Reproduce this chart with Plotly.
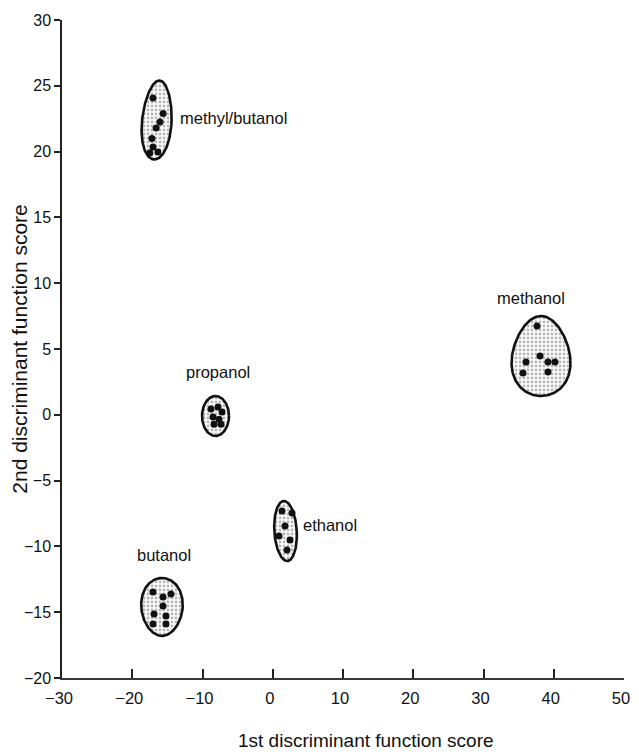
import numpy as np
import plotly.graph_objects as go

# ---- data ----
groups = ["methyl/butanol", "methanol", "propanol", "ethanol", "butanol"]

pts_x = {
    "methyl/butanol": [-17.05, -15.6, -16.05, -16.6, -17.2, -17.05, -17.5, -16.35],
    "methanol": [37.62, 36.05, 38.04, 39.18, 40.18, 35.62, 39.18],
    "propanol": [-8.79, -7.79, -7.22, -8.51, -7.65, -8.36, -7.37],
    "ethanol": [1.32, 2.74, 1.74, 0.89, 2.46, 2.03],
    "butanol": [-17.05, -15.62, -14.48, -15.62, -16.90, -15.2, -17.05, -15.2],
}
pts_y = {
    "methyl/butanol": [24.07, 22.9, 22.25, 21.8, 21.0, 20.35, 19.9, 19.97],
    "methanol": [6.75, 4.01, 4.47, 4.01, 4.01, 3.18, 3.25],
    "propanol": [0.44, 0.59, 0.21, -0.17, -0.33, -0.71, -0.71],
    "ethanol": [-7.31, -7.46, -8.45, -9.21, -9.51, -10.27],
    "butanol": [-13.47, -13.85, -13.62, -14.53, -15.14, -15.29, -15.9, -15.9],
}

# group region centre, half-widths, shear and egg factor (drawn outline)
reg_cx = [-16.5, 38.19, -8.15, 1.82, -15.77]
reg_cy = [22.4, 4.47, -0.09, -8.83, -14.6]
reg_rx = [2.1, 4.13, 1.92, 1.6, 2.95]
reg_ry = [3.0, 3.04, 1.52, 2.28, 2.2]
reg_shear = [0.12, 0.0, 0.0, -0.1, 0.0]
reg_egg = [0.1, 0.18, 0.0, 0.0, -0.08]

# label positions
lab_x = [-13.5, 36.76, -7.79, 4.0, -15.48]
lab_y = [22.55, 8.87, 3.25, -8.37, -10.65]
lab_anchor = ["left", "center", "center", "left", "center"]

x_ticks = [-30, -20, -10, 0, 10, 20, 30, 40, 50]
y_ticks = [-20, -15, -10, -5, 0, 5, 10, 15, 20, 25, 30]
x_title = "1st discriminant function score"
y_title = "2nd discriminant function score"

FONT = "Liberation Sans, Arial, Helvetica, sans-serif"
INK = "#111111"

fig = go.Figure()

t = np.linspace(0, 2 * np.pi, 200)
for i, g in enumerate(groups):
    s = np.sin(t)
    ex = reg_rx[i] * np.cos(t) * (1 - reg_egg[i] * s)
    ey = reg_ry[i] * s
    xs = reg_cx[i] + ex + reg_shear[i] * ey
    ys = reg_cy[i] + ey
    fig.add_trace(go.Scatter(
        x=xs, y=ys, mode="lines",
        line=dict(color=INK, width=2.6),
        fill="toself", fillcolor="rgba(255,255,255,0)",
        fillpattern=dict(shape=".", fgcolor="#6e6e6e", bgcolor="white",
                         size=4, solidity=0.4),
        hoverinfo="skip", showlegend=False,
    ))
    fig.add_trace(go.Scatter(
        x=pts_x[g], y=pts_y[g], mode="markers",
        marker=dict(color=INK, size=7, symbol="circle"),
        name=g, showlegend=False,
    ))
    fig.add_annotation(
        x=lab_x[i], y=lab_y[i], text=g, showarrow=False,
        xanchor=lab_anchor[i], yanchor="middle",
        font=dict(family=FONT, size=16.5, color=INK),
    )

# x-axis title, placed slightly right of centre as in the original
fig.add_annotation(
    x=0.541, y=0, xref="paper", yref="paper", yshift=-62,
    text=x_title, showarrow=False, xanchor="center", yanchor="middle",
    font=dict(family=FONT, size=19, color=INK),
)

# the page has an 8px body margin, so the figure is sized to end at the window edge
fig.update_layout(
    width=631, height=747,
    margin=dict(l=54, r=15, t=12, b=77),
    paper_bgcolor="white", plot_bgcolor="white",
    font=dict(family=FONT, size=16, color=INK),
    showlegend=False,
)
fig.update_xaxes(
    range=[-30, 50], tickvals=x_ticks, ticks="inside", ticklen=9,
    tickcolor="#222222", tickwidth=1.5, automargin=False,
    tickfont=dict(family=FONT, size=16.5), ticklabelshift=-3,
    ticklabelstandoff=4,
    showline=True, linecolor="#3a3a3a", linewidth=1.6,
    showgrid=False, zeroline=False,
)
fig.update_yaxes(
    range=[-20, 30], tickvals=y_ticks, ticks="outside", ticklen=6,
    tickcolor="#222222", tickwidth=1.5, automargin=False,
    tickfont=dict(family=FONT, size=16),
    showline=True, linecolor="#222222", linewidth=1.5,
    showgrid=False, zeroline=False,
    title=dict(text=y_title, standoff=0,
               font=dict(family=FONT, size=21)),
)

fig.write_html("out.html")
